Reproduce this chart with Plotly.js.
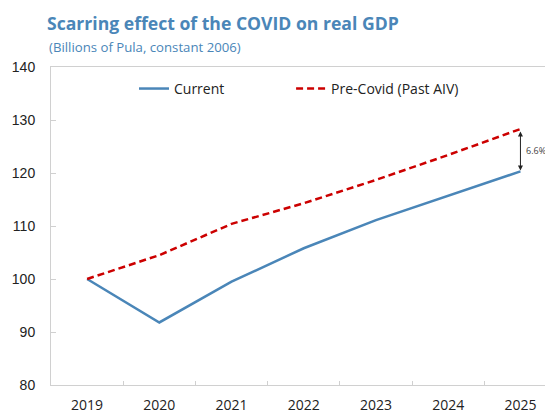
<!DOCTYPE html>
<html>
<head>
<meta charset="utf-8">
<script src="https://cdn.plot.ly/plotly-3.0.1.min.js"></script>
<style>html,body{margin:0;padding:0;background:#fff;}#chart{width:545px;height:413px;}</style>
</head>
<body>
<div id="chart"></div>
<script>
const years = ["2019", "2020", "2021", "2022", "2023", "2024", "2025"];
const current = [100, 91.8, 99.5, 105.8, 111.1, 115.7, 120.3];
const preCovid = [100, 104.5, 110.4, 114.3, 118.7, 123.4, 128.3];
const seriesNames = ["Current", "Pre-Covid (Past AIV)"];
const gapLabel = "6.6%";
const titleText = "Scarring effect of the COVID on real GDP";
const subtitleText = "(Billions of Pula, constant 2006)";

const last = years.length - 1;
const traces = [
  {x: years, y: current, name: seriesNames[0], type: "scatter", mode: "lines",
   legend: "legend", line: {color: "#4a86b8", width: 2.5}},
  {x: years, y: preCovid, name: seriesNames[1], type: "scatter", mode: "lines",
   legend: "legend2", line: {color: "#cc0000", width: 2.5, dash: "7px,4px"}}
];

const legendFont = {size: 14, color: "#222", family: "Open Sans, sans-serif"};
const layout = {
  width: 545, height: 413,
  margin: {l: 51, r: 0, t: 67, b: 28},
  paper_bgcolor: "#fff", plot_bgcolor: "#fff",
  font: {family: "Open Sans, sans-serif", color: "#222"},
  title: {text: "<b>" + titleText + "</b>", x: 47/545, xanchor: "left", xref: "container",
          y: 1 - 24/413, yanchor: "middle", yref: "container",
          font: {family: "Open Sans, sans-serif", size: 17.6, color: "#4a86b8"}},
  showlegend: true,
  legend: {orientation: "h", x: 0.168, y: 0.931, xanchor: "left", yanchor: "middle",
           font: legendFont, bgcolor: "rgba(0,0,0,0)"},
  legend2: {orientation: "h", x: 0.486, y: 0.931, xanchor: "left", yanchor: "middle",
           font: legendFont, bgcolor: "rgba(0,0,0,0)"},
  xaxis: {type: "category", range: [-0.5, 6.34], showgrid: false, zeroline: false,
          showline: true, linecolor: "#d0d0d0", linewidth: 1, mirror: true,
          ticks: "inside", tickson: "boundaries", ticklen: 4, tickcolor: "#d0d0d0",
          ticklabelstandoff: 7,
          tickfont: {family: "Open Sans, sans-serif", size: 14, color: "#222"}},
  yaxis: {range: [80, 140], dtick: 10, showgrid: false, zeroline: false,
          showline: true, linecolor: "#d0d0d0", linewidth: 1,
          ticks: "inside", ticklen: 5, tickcolor: "#d0d0d0", ticklabelstandoff: 12,
          tickfont: {family: "Liberation Sans, Arial, sans-serif", size: 14, color: "#222"}},
  annotations: [
    {xref: "paper", yref: "paper", x: -4/494, y: 1 + 20/318, xanchor: "left", yanchor: "middle",
     text: subtitleText, showarrow: false,
     font: {family: "Open Sans, sans-serif", size: 13.2, color: "#4a86b8"}},
    {x: last, y: current[last], ax: last, ay: preCovid[last],
     xref: "x", yref: "y", axref: "x", ayref: "y", text: "", showarrow: true,
     arrowhead: 2, startarrowhead: 2, arrowside: "end+start", arrowsize: 1, arrowwidth: 1,
     arrowcolor: "#222", standoff: 1, startstandoff: 1},
    {x: last, y: (current[last] + preCovid[last]) / 2, xref: "x", yref: "y",
     text: gapLabel, showarrow: false, xanchor: "left", xshift: 4,
     font: {family: "Open Sans, sans-serif", size: 9, color: "#444"}}
  ]
};

Plotly.newPlot("chart", traces, layout, {displayModeBar: false, staticPlot: true});
</script>
</body>
</html>
